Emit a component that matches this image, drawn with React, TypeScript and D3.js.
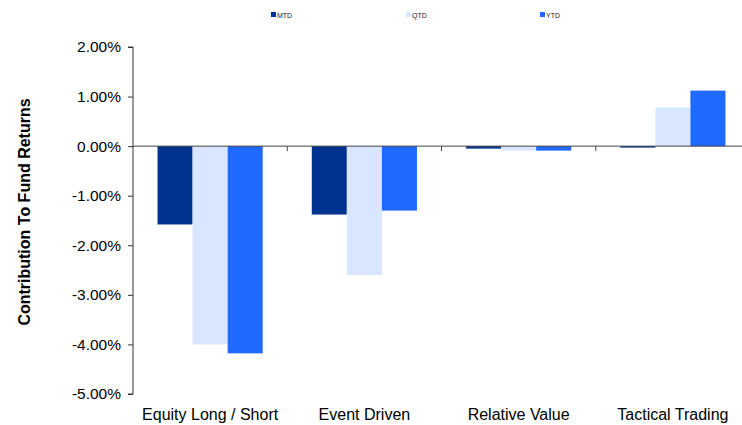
import { useEffect, useRef } from "react";
import * as d3 from "d3";

const categories = ["Equity Long / Short", "Event Driven", "Relative Value", "Tactical Trading"];
const seriesNames = ["MTD", "QTD", "YTD"];
const mtd = [-1.58, -1.38, -0.05, -0.03];
const qtd = [-4.0, -2.6, -0.09, 0.78];
const ytd = [-4.18, -1.3, -0.09, 1.12];
const yTicks = [2, 1, 0, -1, -2, -3, -4, -5];
const colors = ["#00338F", "#D9E6FF", "#1F69FF"];

export default function App() {
  const svgRef = useRef<SVGSVGElement>(null);

  useEffect(() => {
    const svg = d3.select(svgRef.current);
    svg.selectAll("*").remove();

    const font = "'Liberation Sans', Arial, sans-serif";

    const plotLeft = 133;
    const plotRight = 750; // the plot runs past the visible window

    const x = d3.scaleBand().domain(categories).range([plotLeft, plotRight]);
    const inner = d3
      .scaleBand()
      .domain(seriesNames)
      .range([0, x.bandwidth()])
      .paddingOuter(0.7)
      .paddingInner(0);

    const y = d3.scaleLinear().domain([-5, 2]).range([394, 47]);

    const series = [mtd, qtd, ytd];

    // bars
    const g = svg.append("g");
    series.forEach((vals, si) => {
      g.append("g")
        .selectAll("rect")
        .data(vals)
        .enter()
        .append("rect")
        .attr("x", (_d, i) => x(categories[i])! + inner(seriesNames[si])!)
        .attr("y", (d) => y(Math.max(0, d)))
        .attr("width", inner.bandwidth())
        .attr("height", (d) => Math.abs(y(d) - y(0)))
        .attr("fill", colors[si]);
    });

    // y axis
    const yAxis = svg
      .append("g")
      .attr("transform", `translate(${plotLeft},0)`)
      .call(
        d3
          .axisLeft(y)
          .tickValues(yTicks)
          .tickSize(5)
          .tickPadding(7)
          .tickFormat((d) => `${(+d).toFixed(2)}%`)
      );
    yAxis.select(".domain").attr("stroke", "#333").attr("d", `M-5,${y(2)}H0V${y(-5)}H-5`);
    yAxis.selectAll(".tick line").attr("stroke", "#333");
    yAxis
      .selectAll("text")
      .attr("font-family", font)
      .attr("font-size", 15.5)
      .attr("fill", "#000");

    // zero line with category ticks
    const zero = svg.append("g");
    zero
      .append("line")
      .attr("x1", plotLeft)
      .attr("x2", plotRight)
      .attr("y1", y(0))
      .attr("y2", y(0))
      .attr("stroke", "#444")
      .attr("stroke-width", 1);
    zero
      .selectAll("line.tk")
      .data(categories.slice(1))
      .enter()
      .append("line")
      .attr("class", "tk")
      .attr("x1", (d) => x(d)!)
      .attr("x2", (d) => x(d)!)
      .attr("y1", y(0))
      .attr("y2", y(0) + 5)
      .attr("stroke", "#444");

    // category labels
    svg
      .append("g")
      .selectAll("text")
      .data(categories)
      .enter()
      .append("text")
      .attr("x", (d) => x(d)! + x.bandwidth() / 2)
      .attr("y", 420)
      .attr("text-anchor", "middle")
      .attr("font-family", font)
      .attr("font-size", 16)
      .text((d) => d);

    // y title
    svg
      .append("text")
      .attr("transform", `translate(30,212) rotate(-90)`)
      .attr("text-anchor", "middle")
      .attr("font-family", font)
      .attr("font-size", 16)
      .attr("font-weight", "bold")
      .text("Contribution To Fund Returns");

    // legend
    const legendX = [271, 406, 540];
    const legend = svg
      .append("g")
      .selectAll("g")
      .data(seriesNames)
      .enter()
      .append("g")
      .attr("transform", (_d, i) => `translate(${legendX[i]},12)`);
    legend
      .append("rect")
      .attr("width", 5)
      .attr("height", 5)
      .attr("fill", (_d, i) => colors[i]);
    legend
      .append("text")
      .attr("x", 6)
      .attr("y", 5.5)
      .attr("font-family", font)
      .attr("font-size", 7)
      .attr("fill", "#222")
      .text((d) => d);
  }, []);

  return (
    <div style={{ position: "fixed", left: 0, top: 0, width: 742, height: 425, overflow: "hidden", background: "#fff" }}>
      <svg ref={svgRef} width={742} height={425} style={{ display: "block" }} />
    </div>
  );
}
